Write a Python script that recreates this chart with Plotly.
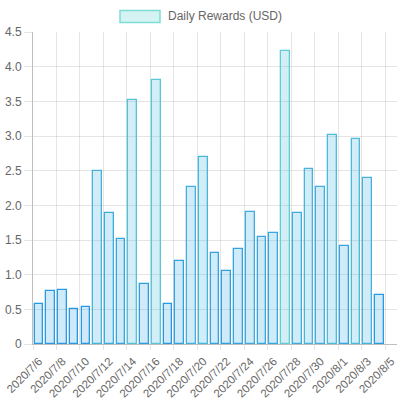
import plotly.graph_objects as go

dates = ["2020-07-06", "2020-07-07", "2020-07-08", "2020-07-09", "2020-07-10",
         "2020-07-11", "2020-07-12", "2020-07-13", "2020-07-14", "2020-07-15",
         "2020-07-16", "2020-07-17", "2020-07-18", "2020-07-19", "2020-07-20",
         "2020-07-21", "2020-07-22", "2020-07-23", "2020-07-24", "2020-07-25",
         "2020-07-26", "2020-07-27", "2020-07-28", "2020-07-29", "2020-07-30",
         "2020-07-31", "2020-08-01", "2020-08-02", "2020-08-03", "2020-08-04"]
rewards = [0.58, 0.76, 0.78, 0.50, 0.53, 2.49, 1.89, 1.51, 3.52, 0.87,
           3.81, 0.58, 1.20, 2.27, 2.70, 1.31, 1.06, 1.37, 1.91, 1.55,
           1.60, 4.22, 1.89, 2.53, 2.27, 3.02, 1.42, 2.95, 2.39, 0.70]
series_name = "Daily Rewards (USD)"

x_tick_vals = ["2020-07-06", "2020-07-08", "2020-07-10", "2020-07-12", "2020-07-14",
               "2020-07-16", "2020-07-18", "2020-07-20", "2020-07-22", "2020-07-24",
               "2020-07-26", "2020-07-28", "2020-07-30", "2020-08-01", "2020-08-03",
               "2020-08-05"]
x_tick_text = ["2020/7/6", "2020/7/8", "2020/7/10", "2020/7/12", "2020/7/14",
               "2020/7/16", "2020/7/18", "2020/7/20", "2020/7/22", "2020/7/24",
               "2020/7/26", "2020/7/28", "2020/7/30", "2020/8/1", "2020/8/3",
               "2020/8/5"]
y_tick_vals = [0, 0.5, 1.0, 1.5, 2.0, 2.5, 3.0, 3.5, 4.0, 4.5]
y_tick_text = ["0", "0.5", "1.0", "1.5", "2.0", "2.5", "3.0", "3.5", "4.0", "4.5"]

DAY_MS = 86400000

fig = go.Figure()
fig.add_trace(go.Bar(
    x=dates, y=rewards, name=series_name,
    xperiod=DAY_MS, xperiodalignment="middle",
    width=0.74 * DAY_MS,
    marker=dict(
        color=rewards, cmin=0, cmax=7,
        colorscale=[[0, "rgba(54,162,235,0.24)"], [1, "rgba(75,205,200,0.24)"]],
        line=dict(width=1.3, color=rewards, cmin=0, cmax=5,
                  colorscale=[[0, "rgb(30,144,230)"], [1, "rgb(110,215,210)"]]),
    ),
    showlegend=False,
))

grid = "rgba(0,0,0,0.1)"
fig.update_layout(
    width=400, height=400,
    margin=dict(l=33, r=3, t=32, b=56),
    paper_bgcolor="white", plot_bgcolor="white",
    font=dict(family="Liberation Sans, Arial, sans-serif", size=12, color="#666"),
    bargap=0,
    xaxis=dict(
        type="date", range=["2020-07-05 23:59:00", "2020-08-06"],
        tickmode="array", tickvals=x_tick_vals, ticktext=x_tick_text,
        tickangle=-45, showgrid=True, gridcolor=grid, gridwidth=1,
        ticks="outside", ticklen=5, tickcolor=grid,
        showline=True, linecolor="rgba(0,0,0,0.25)", linewidth=1,
        zeroline=False, fixedrange=True, automargin=False,
        ticklabeloverflow="allow", ticklabelshift=6,
        tickfont=dict(size=11.5, color="#666"),
    ),
    yaxis=dict(
        range=[0, 4.5], tickmode="array", tickvals=y_tick_vals, ticktext=y_tick_text,
        showgrid=True, gridcolor=grid, gridwidth=1,
        ticks="outside", ticklen=8, tickcolor=grid,
        showline=True, linecolor="rgba(0,0,0,0.25)", linewidth=1,
        zeroline=False, fixedrange=True, automargin=False,
        tickfont=dict(size=12, color="#666"),
    ),
    shapes=[dict(type="rect", xref="paper", yref="paper",
                 x0=(120 - 33) / 364, x1=(160 - 33) / 364,
                 y0=(344 - 22.5) / 312, y1=(344 - 10.5) / 312,
                 fillcolor="rgba(75,205,200,0.24)",
                 line=dict(color="rgb(125,220,212)", width=1.5))],
    annotations=[dict(text=series_name, xref="paper", yref="paper",
                      x=(166 - 33) / 364, y=(344 - 16) / 312,
                      xanchor="left", yanchor="middle", showarrow=False,
                      font=dict(size=12, color="#666"))],
)

fig.write_html("out.html")
